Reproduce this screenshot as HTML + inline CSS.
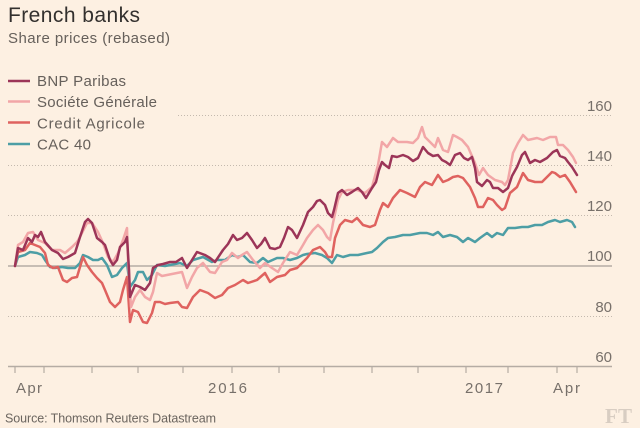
<!DOCTYPE html>
<html><head><meta charset="utf-8"><style>
html,body{margin:0;padding:0;background:#fdf0e2;}
svg{display:block;}
text{font-family:"Liberation Sans",sans-serif;}
</style></head><body>
<svg width="640" height="428" viewBox="0 0 640 428" xmlns="http://www.w3.org/2000/svg">
<rect width="640" height="428" fill="#fdf0e2"/>
<!-- gridlines -->
<g stroke="#c4b9ae" stroke-width="1" stroke-dasharray="1,2">
<line x1="178" y1="115.5" x2="612" y2="115.5"/>
<line x1="8" y1="165.5" x2="612" y2="165.5"/>
<line x1="8" y1="215.5" x2="612" y2="215.5"/>
<line x1="8" y1="316.5" x2="612" y2="316.5"/>
</g>
<line x1="8" y1="266" x2="612" y2="266" stroke="#b5aca4" stroke-width="1.6"/>
<line x1="8" y1="366.5" x2="612" y2="366.5" stroke="#b5aca4" stroke-width="1.4"/>
<g stroke="#b5aca4" stroke-width="1.2">
<line x1="15" y1="366" x2="15" y2="373"/><line x1="44" y1="366" x2="44" y2="373"/>
<line x1="92" y1="366" x2="92" y2="373"/><line x1="138" y1="366" x2="138" y2="373"/>
<line x1="183" y1="366" x2="183" y2="373"/><line x1="232" y1="366" x2="232" y2="373"/>
<line x1="279" y1="366" x2="279" y2="373"/><line x1="324" y1="366" x2="324" y2="373"/>
<line x1="372" y1="366" x2="372" y2="373"/><line x1="418" y1="366" x2="418" y2="373"/>
<line x1="466" y1="366" x2="466" y2="373"/><line x1="508" y1="366" x2="508" y2="373"/>
<line x1="557" y1="366" x2="557" y2="373"/><line x1="577" y1="366" x2="577" y2="373"/>
</g>
<!-- y labels -->
<g fill="#77706a" font-size="15" text-anchor="end">
<text x="612" y="111">160</text>
<text x="612" y="161">140</text>
<text x="612" y="211">120</text>
<text x="612" y="261">100</text>
<text x="612" y="312">80</text>
<text x="612" y="362">60</text>
</g>
<!-- x labels -->
<g fill="#77706a" font-size="15">
<text x="16" y="393" textLength="26">Apr</text>
<text x="208" y="393" textLength="39">2016</text>
<text x="465" y="393" textLength="38">2017</text>
<text x="553" y="393" textLength="27">Apr</text>
</g>
<!-- series -->
<g fill="none" stroke-width="2.5" stroke-linejoin="round" stroke-linecap="round">
<polyline stroke="#4d9ea5" points="15,266 18,257 25,255 30,252 37,253 42,255 45,260 50,267 55,268 62,267 68,268 75,268 80,263 83,255 88,257 93,260 98,260 102,258 107,265 112,277 117,275 122,268 127,263 130,287 135,280 138,272 143,272 147,280 152,275 157,265 165,266 170,265 180,263 187,266 193,260 203,257 212,262 217,260 225,260 232,255 238,257 243,255 250,262 257,263 263,258 268,262 277,258 283,258 290,260 297,258 303,255 307,254 315,253 322,255 327,258 332,263 337,255 343,257 350,255 358,255 367,253 372,252 377,248 383,242 388,238 395,237 403,235 410,235 420,233 427,233 433,235 438,232 443,237 450,235 457,237 463,242 468,238 475,242 480,238 487,233 492,237 497,233 503,235 508,228 515,228 522,227 528,227 535,225 542,225 548,222 555,220 560,222 567,220 572,222 575,227"/>
<polyline stroke="#df625f" points="15,266 18,252 25,250 30,243 35,245 40,247 45,253 48,265 53,268 58,267 63,280 67,282 72,278 77,277 80,267 83,257 87,265 92,272 97,278 102,283 105,290 110,302 115,307 120,302 123,290 127,277 130,322 133,310 138,312 143,322 147,323 152,313 155,302 160,302 165,304 170,303 178,302 182,307 187,308 193,297 200,290 208,293 215,298 222,295 228,288 235,285 243,280 248,283 257,280 265,273 270,282 277,277 285,275 290,270 297,268 303,262 307,258 313,250 320,247 325,252 328,257 332,257 335,238 340,225 345,220 352,222 357,218 363,225 370,227 375,225 380,210 383,203 388,207 393,198 400,190 407,193 415,197 420,187 425,182 432,185 438,175 443,182 448,180 453,177 458,176 463,178 470,187 475,198 478,207 483,207 488,198 493,200 497,205 502,210 505,208 510,193 517,187 523,173 528,180 535,182 542,182 547,177 552,172 555,173 560,177 565,175 570,182 576,192"/>
<polyline stroke="#f2a6a7" points="15,266 18,245 23,242 28,233 33,232 38,240 45,243 52,250 60,250 65,253 72,247 77,242 80,237 87,223 92,223 98,232 103,243 108,257 113,262 118,253 123,240 127,228 128,260 131,307 135,297 140,290 145,297 150,300 153,292 157,273 162,276 167,275 172,274 177,273 182,272 187,288 192,277 197,268 203,263 210,272 215,273 222,262 227,260 232,253 238,258 242,255 247,252 253,260 260,268 265,263 272,268 278,272 283,263 290,252 297,255 300,250 303,245 307,238 313,230 318,225 323,230 327,237 330,240 333,223 338,200 342,192 348,190 357,190 365,193 372,187 378,165 382,142 387,147 393,138 398,142 407,142 413,143 418,138 422,127 425,137 430,142 435,147 438,138 443,150 448,152 453,135 457,137 462,140 468,147 475,163 479,175 483,168 488,175 495,180 502,182 505,185 508,180 513,153 518,143 523,135 528,140 537,138 543,140 550,137 556,137 558,145 563,145 568,150 573,157 576,163"/>
<polyline stroke="#9c3558" points="15,266 18,248 23,250 28,238 32,242 35,235 38,237 41,232 45,242 52,250 58,253 63,259 68,257 75,253 80,237 85,222 88,219 92,223 97,238 102,242 105,245 110,260 113,265 117,260 120,247 125,242 127,237 129,270 130,297 135,285 140,287 145,290 150,283 153,268 158,265 163,264 170,262 176,262 182,258 187,268 192,260 197,252 205,255 210,258 215,262 223,250 228,244 233,235 237,240 242,238 247,233 252,240 257,248 261,244 265,238 270,248 275,249 280,247 284,238 288,227 292,230 297,238 303,225 308,212 313,207 317,201 320,200 325,205 328,213 332,217 334,210 338,193 342,190 347,195 352,192 358,188 362,192 366,198 372,188 376,182 379,170 382,162 385,165 389,168 392,156 397,157 403,155 408,157 413,161 418,158 423,147 428,153 433,156 438,155 442,160 446,162 450,165 455,155 460,153 464,158 468,160 472,157 475,168 477,182 482,186 487,180 490,182 493,188 498,188 503,192 508,188 512,176 517,167 522,155 525,152 530,163 535,160 540,162 547,158 553,152 557,150 560,156 565,158 568,162 572,167 577,175"/>
</g>
<!-- title -->
<text x="8" y="22" font-size="21" fill="#33302e" textLength="132">French banks</text>
<text x="8" y="43" font-size="15" fill="#66605b" textLength="162">Share prices (rebased)</text>
<!-- legend -->
<g stroke-width="2.5">
<line x1="8" y1="81" x2="30" y2="81" stroke="#9c3558"/>
<line x1="8" y1="101.5" x2="30" y2="101.5" stroke="#f2a6a7"/>
<line x1="8" y1="122.5" x2="30" y2="122.5" stroke="#df625f"/>
<line x1="8" y1="144" x2="30" y2="144" stroke="#4d9ea5"/>
</g>
<g font-size="15" fill="#66605b">
<text x="37" y="86" textLength="89">BNP Paribas</text>
<text x="37" y="107" textLength="120">Sociéte Générale</text>
<text x="37" y="128.5" textLength="108">Credit Agricole</text>
<text x="37" y="149.5" textLength="54">CAC 40</text>
</g>
<!-- source -->
<text x="5" y="422.5" font-size="12.5" fill="#6b655f" textLength="211">Source: Thomson Reuters Datastream</text>
<text x="605" y="423" style="font-family:'Liberation Serif',serif;font-weight:bold;font-size:21px" fill="#d8cdc2" textLength="27">FT</text>
</svg>
</body></html>
